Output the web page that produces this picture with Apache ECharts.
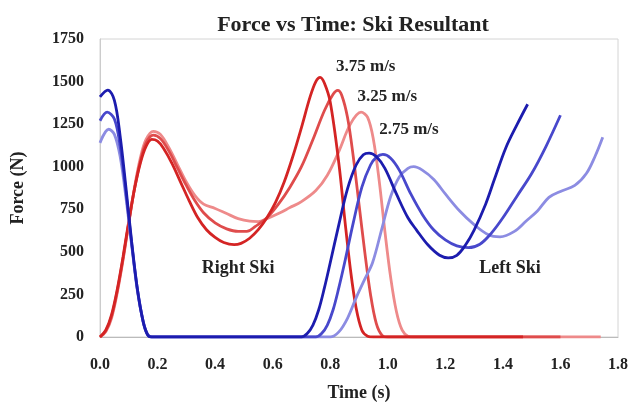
<!DOCTYPE html>
<html>
<head>
<meta charset="utf-8">
<script src="https://cdn.jsdelivr.net/npm/echarts@6.0.0/dist/echarts.min.js"></script>
<style>
  html, body { margin: 0; padding: 0; background: #fff; }
  #chart { width: 632px; height: 403px; }
</style>
</head>
<body>
<div id="chart"></div>
<script>
  // time (s), force (N) pairs
  var right375 = [[0,0],[0.02,40],[0.04,130],[0.06,280],[0.08,470],[0.10,680],[0.12,870],[0.14,1020],[0.16,1120],[0.18,1160],[0.20,1150],[0.22,1110],[0.25,1020],[0.28,910],[0.31,800],[0.34,700],[0.37,630],[0.40,585],[0.43,555],[0.466,542],[0.49,550],[0.52,580],[0.55,630],[0.58,700],[0.61,790],[0.64,910],[0.67,1060],[0.70,1230],[0.73,1410],[0.75,1500],[0.765,1525],[0.78,1490],[0.80,1380],[0.83,1020],[0.85,700],[0.87,400],[0.89,170],[0.91,40],[0.93,5],[0.95,0],[1.47,0]];
  var right325 = [[0,0],[0.02,35],[0.04,120],[0.06,270],[0.08,460],[0.10,670],[0.12,870],[0.14,1030],[0.16,1140],[0.185,1185],[0.21,1165],[0.24,1090],[0.27,990],[0.30,890],[0.33,800],[0.36,730],[0.40,670],[0.44,635],[0.48,620],[0.51,620],[0.54,650],[0.58,700],[0.62,780],[0.66,880],[0.70,1000],[0.74,1160],[0.78,1330],[0.81,1425],[0.826,1448],[0.84,1420],[0.86,1290],[0.88,1060],[0.90,780],[0.92,500],[0.94,250],[0.96,80],[0.98,10],[1.00,0],[1.60,0]];
  var right275 = [[0,0],[0.02,30],[0.04,110],[0.06,260],[0.08,450],[0.10,670],[0.12,880],[0.14,1050],[0.16,1160],[0.185,1208],[0.21,1190],[0.24,1110],[0.27,1010],[0.30,910],[0.33,830],[0.36,780],[0.40,755],[0.44,725],[0.48,695],[0.52,680],[0.55,678],[0.58,695],[0.62,725],[0.66,760],[0.70,795],[0.75,860],[0.79,950],[0.83,1090],[0.87,1250],[0.907,1320],[0.93,1290],[0.95,1160],[0.97,920],[0.99,620],[1.01,350],[1.03,150],[1.05,40],[1.07,5],[1.09,0],[1.74,0]];

  var left375 = [[0,1410],[0.027,1450],[0.05,1390],[0.07,1180],[0.09,880],[0.11,560],[0.13,280],[0.15,90],[0.165,15],[0.18,0],[0.70,0],[0.72,20],[0.74,70],[0.76,160],[0.78,290],[0.80,436],[0.83,660],[0.86,870],[0.89,1010],[0.915,1070],[0.935,1080],[0.96,1060],[0.99,990],[1.03,840],[1.07,700],[1.10,628],[1.14,540],[1.18,480],[1.21,465],[1.24,480],[1.27,540],[1.30,628],[1.34,780],[1.37,923],[1.41,1110],[1.45,1250],[1.486,1367]];
  var left325 = [[0,1270],[0.025,1320],[0.05,1280],[0.07,1120],[0.09,850],[0.11,550],[0.13,280],[0.15,90],[0.165,15],[0.18,0],[0.75,0],[0.77,20],[0.79,70],[0.81,160],[0.83,290],[0.85,436],[0.88,670],[0.91,880],[0.94,1010],[0.96,1055],[0.983,1072],[1.01,1050],[1.04,980],[1.08,840],[1.12,720],[1.16,628],[1.20,570],[1.24,535],[1.28,525],[1.32,545],[1.36,610],[1.40,700],[1.45,830],[1.50,960],[1.55,1120],[1.60,1302]];
  var left275 = [[0,1140],[0.03,1220],[0.05,1190],[0.07,1060],[0.09,820],[0.11,540],[0.13,270],[0.15,90],[0.165,15],[0.18,0],[0.80,0],[0.83,30],[0.86,110],[0.89,230],[0.92,340],[0.947,436],[0.98,640],[1.01,825],[1.04,940],[1.07,990],[1.09,1000],[1.12,980],[1.16,925],[1.20,840],[1.25,740],[1.30,660],[1.35,600],[1.39,588],[1.44,620],[1.48,680],[1.52,740],[1.56,820],[1.60,855],[1.65,890],[1.69,960],[1.72,1060],[1.747,1173]];

  var xTicks = [0, 0.2, 0.4, 0.6, 0.8, 1.0, 1.2, 1.4, 1.6, 1.8];
  var yTicks = [0, 250, 500, 750, 1000, 1250, 1500, 1750];

  // annotation texts, anchored in data units
  var speedLabels = [
    { text: '3.75 m/s', at: [0.82, 1590] },
    { text: '3.25 m/s', at: [0.895, 1410] },
    { text: '2.75 m/s', at: [0.97, 1220] }
  ];
  var skiLabels = [
    { text: 'Right Ski', at: [0.48, 405] },
    { text: 'Left Ski', at: [1.425, 405] }
  ];

  var serif = '"Liberation Serif", "Times New Roman", serif';
  var chart = echarts.init(document.getElementById('chart'));

  function line(name, data, color) {
    return {
      name: name,
      type: 'line',
      data: data,
      smooth: 0.35,
      symbol: 'none',
      clip: true,
      lineStyle: { color: color, width: 2.8 }
    };
  }

  chart.setOption({
    backgroundColor: '#fff',
    animation: false,
    title: {
      text: 'Force vs Time: Ski Resultant',
      left: 348,
      textAlign: 'center',
      top: 9,
      textStyle: { fontFamily: serif, fontSize: 22, fontWeight: 'bold', color: '#222' }
    },
    grid: {
      left: 100, right: 14, top: 39, bottom: 66,
      containLabel: false, outerBoundsMode: 'none',
      show: true, borderColor: '#d4d4d4', borderWidth: 1
    },
    xAxis: {
      type: 'value',
      min: 0, max: 1.8, interval: 0.2,
      name: 'Time (s)',
      nameLocation: 'middle',
      nameGap: 47,
      nameTextStyle: { fontFamily: serif, fontSize: 18, fontWeight: 'bold', color: '#222' },
      axisLine: { show: true, lineStyle: { color: '#bbb' } },
      axisTick: { show: false },
      splitLine: { show: false },
      axisLabel: {
        fontFamily: serif, fontSize: 16, fontWeight: 'bold', color: '#222', margin: 20,
        formatter: function (v) {
          var t = xTicks.find(function (k) { return Math.abs(k - v) < 1e-6; });
          return t === undefined ? '' : t.toFixed(1);
        }
      }
    },
    yAxis: {
      type: 'value',
      min: 0, max: 1750, interval: 250,
      name: 'Force (N)',
      nameLocation: 'middle',
      nameGap: 73,
      nameRotate: 90,
      nameTextStyle: { fontFamily: serif, fontSize: 18, fontWeight: 'bold', color: '#222' },
      axisLine: { show: true, lineStyle: { color: '#ccc' } },
      axisTick: { show: false },
      splitLine: { show: false },
      axisLabel: {
        fontFamily: serif, fontSize: 16, fontWeight: 'bold', color: '#222', margin: 16,
        formatter: function (v) { return yTicks.indexOf(v) >= 0 ? String(v) : ''; }
      }
    },
    series: [
      line('Right 2.75', right275, '#ee8a8a'),
      line('Right 3.25', right325, '#df4c4c'),
      line('Right 3.75', right375, '#d42424'),
      line('Left 2.75', left275, '#8c8ce2'),
      line('Left 3.25', left325, '#4848cc'),
      line('Left 3.75', left375, '#1c1cae')
    ]
  });

  var textStyle = { fontFamily: serif, fontSize: 17, fontWeight: 'bold', fill: '#222' };
  var graphics = [];
  speedLabels.forEach(function (l) {
    var p = chart.convertToPixel({ gridIndex: 0 }, l.at);
    graphics.push({ type: 'text', x: p[0], y: p[1], style: Object.assign({ text: l.text, align: 'left', verticalAlign: 'middle' }, textStyle) });
  });
  skiLabels.forEach(function (l) {
    var p = chart.convertToPixel({ gridIndex: 0 }, l.at);
    graphics.push({ type: 'text', x: p[0], y: p[1], style: Object.assign({ text: l.text, align: 'center', verticalAlign: 'middle' }, textStyle, { fontSize: 18 }) });
  });
  chart.setOption({ graphic: graphics });
</script>
</body>
</html>
